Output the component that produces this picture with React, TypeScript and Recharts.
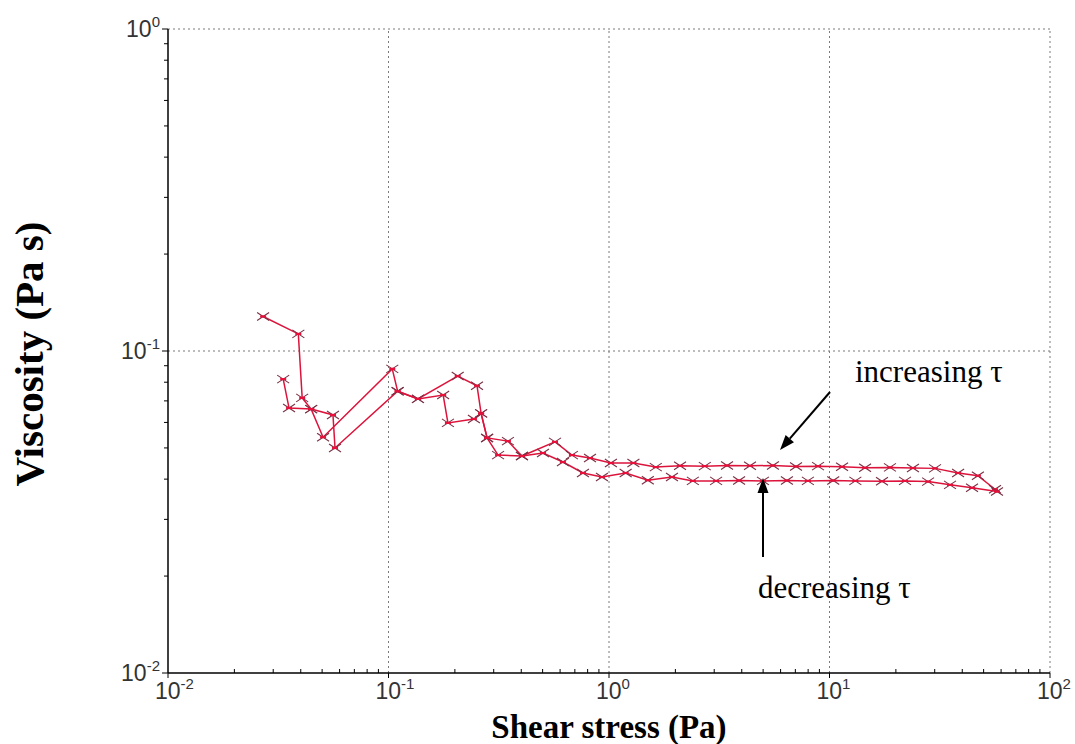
import React from "react";
import { ScatterChart, Scatter, XAxis, YAxis, ReferenceLine, Label } from "recharts";

// increasing shear stress sweep (Pa) and viscosity (Pa s)
const upStress = [0.027, 0.039, 0.0406, 0.0446, 0.0505, 0.104, 0.11, 0.136, 0.206, 0.252, 0.263, 0.28, 0.348, 0.403, 0.569, 0.679, 0.82, 1.02, 1.29, 1.63, 2.1, 2.72, 3.43, 4.36, 5.54, 7.05, 8.87, 11.4, 14.5, 18.8, 23.9, 30.1, 38.3, 47.1, 56.3];
const upViscosity = [0.128, 0.113, 0.0715, 0.066, 0.054, 0.088, 0.075, 0.071, 0.0836, 0.078, 0.064, 0.0537, 0.0525, 0.0472, 0.0522, 0.0475, 0.0465, 0.0449, 0.0449, 0.0436, 0.044, 0.0439, 0.0441, 0.044, 0.0441, 0.0438, 0.0439, 0.0437, 0.0434, 0.0435, 0.0433, 0.0432, 0.0418, 0.041, 0.0372];

// decreasing sweep, back from the top stress
const downStress = [57.5, 44.3, 35.2, 28.0, 22.0, 17.3, 13.1, 10.4, 7.98, 6.41, 4.99, 3.89, 3.06, 2.4, 1.93, 1.5, 1.19, 0.929, 0.762, 0.618, 0.502, 0.403, 0.314, 0.28, 0.263, 0.244, 0.186, 0.177, 0.136, 0.11, 0.0572, 0.056, 0.0446, 0.0354, 0.0333];
const downViscosity = [0.0366, 0.0376, 0.0384, 0.0393, 0.0395, 0.0394, 0.0395, 0.0396, 0.0395, 0.0396, 0.0395, 0.0396, 0.0395, 0.0395, 0.0406, 0.0397, 0.0418, 0.0406, 0.0418, 0.0452, 0.0482, 0.0472, 0.0475, 0.0537, 0.064, 0.0615, 0.0598, 0.073, 0.071, 0.075, 0.05, 0.0633, 0.066, 0.0665, 0.0818];

const X_DECADES = [0.01, 0.1, 1, 10, 100];
const X_EXPONENTS = ["-2", "-1", "0", "1", "2"];
const Y_DECADES = [0.01, 0.1, 1];
const Y_EXPONENTS = ["-2", "-1", "0"];

const upData = upStress.map((x, i) => ({ x, y: upViscosity[i] }));
const downData = downStress.map((x, i) => ({ x, y: downViscosity[i] }));

// log axes get 2..9 minor ticks between decades
const withMinors = (decades: number[]) => {
  const out = [...decades];
  for (let i = 0; i < decades.length - 1; i++) {
    for (let k = 2; k <= 9; k++) out.push(+(decades[i] * k).toPrecision(3));
  }
  return out.sort((a, b) => a - b);
};
const xTicks = withMinors(X_DECADES);
const yTicks = withMinors(Y_DECADES);

const TICK_FONT = "'Liberation Sans', Arial, sans-serif";
const SERIF = "'Liberation Serif', 'Times New Roman', serif";

function XTick({ x, y, payload }: any) {
  const i = X_DECADES.indexOf(payload.value);
  if (i < 0) return <line x1={x} x2={x} y1={y} y2={y - 4} stroke="#000" />;
  return (
    <g>
      <line x1={x} x2={x} y1={y} y2={y + 5} stroke="#000" />
      <text x={x - 13} y={y + 26} fontSize={23} fill="#333" fontFamily={TICK_FONT}>
        <tspan>10</tspan>
        <tspan dy={-10} fontSize={15}>{X_EXPONENTS[i]}</tspan>
      </text>
    </g>
  );
}

function YTick({ x, y, payload }: any) {
  const i = Y_DECADES.indexOf(payload.value);
  if (i < 0) return <line x1={x} x2={x - 4} y1={y} y2={y} stroke="#000" />;
  return (
    <g>
      <line x1={x} x2={x - 6} y1={y} y2={y} stroke="#000" />
      <text x={x - 8} y={y + 8} fontSize={23} fill="#333" fontFamily={TICK_FONT} textAnchor="end">
        <tspan>10</tspan>
        <tspan dy={-10} fontSize={15}>{Y_EXPONENTS[i]}</tspan>
      </text>
    </g>
  );
}

// the "x with a bar" marker of the rheometer software
function Cross({ cx, cy }: any) {
  if (cx == null || cy == null) return null;
  return (
    <g>
      <path d={`M${cx - 6},${cy - 4}L${cx + 6},${cy + 4}M${cx - 6},${cy + 4}L${cx + 6},${cy - 4}`} stroke="#7a3346" strokeWidth={1.1} />
      <line x1={cx - 3} x2={cx + 3} y1={cy} y2={cy} stroke="#e8103a" strokeWidth={2.2} />
    </g>
  );
}

function Arrow({ x1, y1, x2, y2 }: { x1: number; y1: number; x2: number; y2: number }) {
  const a = Math.atan2(y2 - y1, x2 - x1);
  const len = 15;
  const w = 5.5;
  const bx = x2 - len * Math.cos(a);
  const by = y2 - len * Math.sin(a);
  const px = -Math.sin(a) * w;
  const py = Math.cos(a) * w;
  return (
    <g>
      <line x1={x1} y1={y1} x2={bx} y2={by} stroke="#000" strokeWidth={2} />
      <polygon points={`${x2},${y2} ${bx + px},${by + py} ${bx - px},${by - py}`} fill="#000" />
    </g>
  );
}

export default function App() {
  return (
    <div style={{ position: "absolute", left: 0, top: 0, width: 1075, height: 744, background: "#fff" }}>
      <ScatterChart width={1075} height={744} margin={{ top: 29, right: 25, bottom: 31, left: 108 }}>
        <XAxis
          type="number"
          dataKey="x"
          scale="log"
          domain={[0.01, 100]}
          ticks={xTicks}
          interval={0}
          allowDataOverflow
          height={40}
          tickSize={0}
          tickMargin={0}
          tick={<XTick />}
          axisLine={{ stroke: "#000", strokeWidth: 1.5 }}
          tickLine={false}
        >
          <Label
            content={({ viewBox }: any) => (
              <text
                x={viewBox.x + viewBox.width / 2}
                y={738}
                textAnchor="middle"
                fontSize={33}
                fontWeight="bold"
                fontFamily={SERIF}
                fill="#000"
              >
                Shear stress (Pa)
              </text>
            )}
          />
        </XAxis>
        <YAxis
          type="number"
          dataKey="y"
          scale="log"
          domain={[0.01, 1]}
          ticks={yTicks}
          interval={0}
          allowDataOverflow
          width={60}
          tickSize={0}
          tickMargin={0}
          tick={<YTick />}
          axisLine={{ stroke: "#000", strokeWidth: 1.5 }}
          tickLine={false}
        >
          <Label
            content={({ viewBox }: any) => (
              <text
                transform={`translate(43, ${viewBox.y + viewBox.height / 2 + 3}) rotate(-90)`}
                textAnchor="middle"
                fontSize={41}
                fontWeight="bold"
                fontFamily={SERIF}
                fill="#000"
              >
                Viscosity (Pa s)
              </text>
            )}
          />
        </YAxis>
        {X_DECADES.slice(1).map((v) => (
          <ReferenceLine key={`gx${v}`} x={v} stroke="#7a7a7a" strokeDasharray="2 3" />
        ))}
        {Y_DECADES.slice(1).map((v) => (
          <ReferenceLine key={`gy${v}`} y={v} stroke="#7a7a7a" strokeDasharray="2 3" />
        ))}
        <Scatter
          data={upData}
          line={{ stroke: "#dc143c", strokeWidth: 1.5 }}
          lineType="joint"
          shape={<Cross />}
          isAnimationActive={false}
        />
        <Scatter
          data={downData}
          line={{ stroke: "#dc143c", strokeWidth: 1.5 }}
          lineType="joint"
          shape={<Cross />}
          isAnimationActive={false}
        />
      </ScatterChart>
      <svg width={1075} height={744} style={{ position: "absolute", left: 0, top: 0, pointerEvents: "none" }}>
        <text x={855} y={382} fontSize={31} fontFamily={SERIF} fill="#000">increasing τ</text>
        <Arrow x1={830} y1={392} x2={780} y2={450} />
        <text x={758} y={598} fontSize={31} fontFamily={SERIF} fill="#000">decreasing τ</text>
        <Arrow x1={763} y1={557} x2={763} y2={478} />
      </svg>
    </div>
  );
}
